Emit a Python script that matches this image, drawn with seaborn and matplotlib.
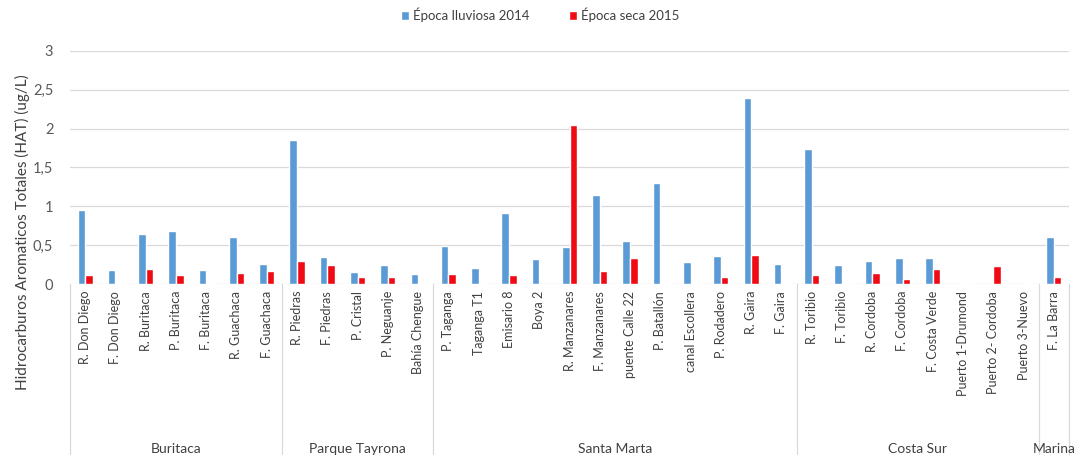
import pandas as pd
import matplotlib
matplotlib.use("Agg")
import matplotlib.pyplot as plt
import matplotlib.transforms as mtransforms
from matplotlib.ticker import FuncFormatter
import seaborn as sns

sns.set_style("white")
plt.rcParams["font.family"] = ["Lato", "DejaVu Sans"]

# ---------------------------------------------------------------
# Data
# ---------------------------------------------------------------
stations = ["R. Don Diego", "F. Don Diego", "R. Buritaca", "P. Buritaca", "F. Buritaca",
            "R. Guachaca", "F. Guachaca",
            "R. Piedras", "F. Piedras", "P. Cristal", "P. Neguanje", "Bahía Chengue",
            "P. Taganga", "Taganga T1", "Emisario 8", "Boya 2", "R. Manzanares",
            "F. Manzanares", "puente Calle 22", "P. Batallón", "canal Escollera",
            "P. Rodadero", "R. Gaira", "F. Gaira",
            "R. Toribio", "F. Toribio", "R. Cordoba", "F. Cordoba", "F. Costa Verde",
            "Puerto 1-Drumond", "Puerto 2- Cordoba", "Puerto 3-Nuevo",
            "F. La Barra"]
zones = ["Buritaca", "Parque Tayrona", "Santa Marta", "Costa Sur", "Marina"]
zone_sizes = [7, 5, 12, 8, 1]

rainy_2014 = [0.95, 0.18, 0.64, 0.68, 0.18, 0.60, 0.26,
              1.86, 0.35, 0.16, 0.24, 0.13,
              0.49, 0.20, 0.92, 0.32, 0.48, 1.14, 0.56, 1.30, 0.28, 0.36, 2.39, 0.26,
              1.74, 0.24, 0.29, 0.34, 0.34, 0.0, 0.0, 0.0,
              0.60]
dry_2015 = [0.12, 0.01, 0.19, 0.11, 0.01, 0.14, 0.17,
            0.30, 0.25, 0.09, 0.09, 0.01,
            0.13, 0.01, 0.11, 0.0, 2.05, 0.17, 0.33, 0.01, 0.01, 0.09, 0.37, 0.01,
            0.11, 0.01, 0.14, 0.07, 0.19, 0.01, 0.23, 0.01,
            0.09]

series_names = ["Época lluviosa 2014", "Época seca 2015"]
colors = ["#5B9BD5", "#F00A14"]

df = pd.DataFrame({
    "station": stations * 2,
    "serie": [series_names[0]] * len(stations) + [series_names[1]] * len(stations),
    "value": rainy_2014 + dry_2015,
})

# ---------------------------------------------------------------
# Plot
# ---------------------------------------------------------------
fig = plt.figure(figsize=(10.81, 4.61), dpi=100)
ax = fig.add_axes([70 / 1081, 1 - 284 / 461, 999 / 1081, 233 / 461])

sns.barplot(data=df, x="station", y="value", hue="serie", order=stations,
            hue_order=series_names, palette=colors, width=0.5, ax=ax,
            saturation=1, errorbar=None, legend=True)

ax.set_xlim(-0.5, len(stations) - 0.5)
ax.set_ylim(0, 3)
ax.set_yticks([0, 0.5, 1, 1.5, 2, 2.5, 3])
ax.yaxis.set_major_formatter(FuncFormatter(lambda v, p: f"{v:g}".replace(".", ",")))
ax.grid(axis="y", color="#D9D9D9", lw=0.9)
ax.set_axisbelow(True)
for s in ax.spines.values():
    s.set_visible(False)
ax.tick_params(axis="y", length=0, labelsize=10.5, labelcolor="#595959", pad=12)
ax.tick_params(axis="x", length=0, labelsize=9, labelcolor="#404040", pad=5)
plt.setp(ax.get_xticklabels(), rotation=90)
ax.set_xlabel("")
ax.set_ylabel("")

# group separators and group labels below the axis
trans = mtransforms.blended_transform_factory(ax.transData, ax.transAxes)
bottom = -170 / 233
edges = [-0.5]
for n in zone_sizes:
    edges.append(edges[-1] + n)
for e in edges:
    ax.plot([e, e], [0, bottom], color="#D9D9D9", lw=0.9, transform=trans, clip_on=False)
for i, z in enumerate(zones):
    mid = (edges[i] + edges[i + 1]) / 2
    ax.text(mid, -165 / 233, z, transform=trans, ha="center", va="center",
            fontsize=10, color="#404040")

fig.text(22 / 1081, 1 - 232 / 461, "Hidrocarburos Aromaticos Totales (HAT) (ug/L)",
         rotation=90, ha="center", va="center", fontsize=11, color="#404040")

handles, labels = ax.get_legend_handles_labels()
ax.legend(handles, labels, loc="center", bbox_to_anchor=(0.5, 1 - 15 / 461),
          bbox_transform=fig.transFigure, ncol=2, frameon=False, fontsize=9.5,
          handlelength=0.6, handleheight=0.6, handletextpad=0.3, columnspacing=3,
          labelcolor="#404040")

plt.savefig("out.png", dpi=100)
